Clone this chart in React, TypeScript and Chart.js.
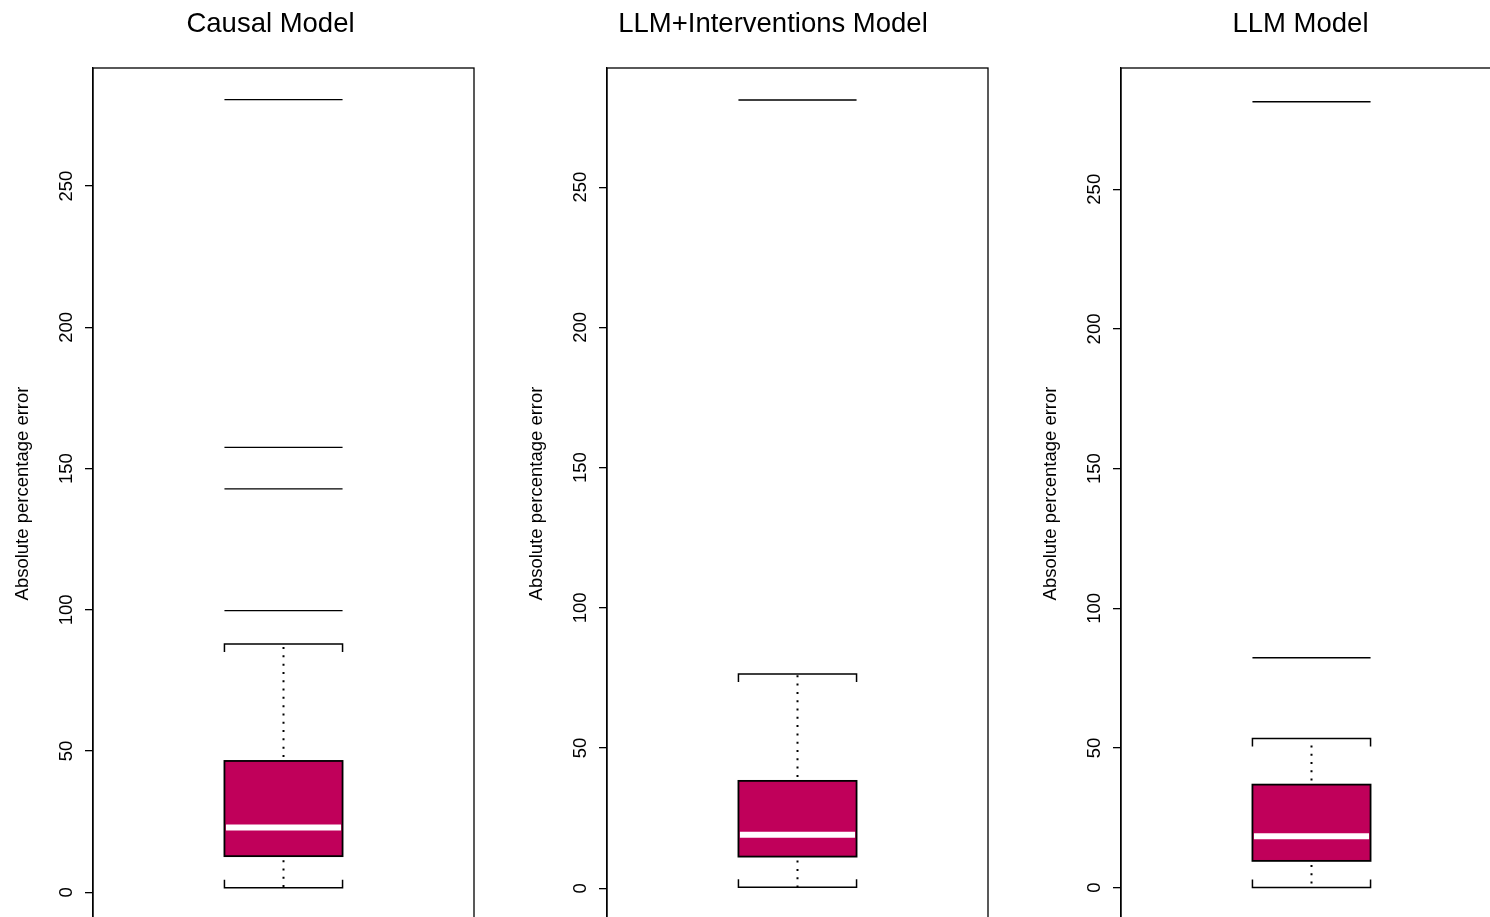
import React, { useEffect, useRef } from 'react';
import { Chart, registerables } from 'chart.js';

Chart.register(...registerables);

// ---------- data ----------
const panelTitles = ['Causal Model', 'LLM+Interventions Model', 'LLM Model'];
const yAxisTitle = 'Absolute percentage error';
const yTickValues = [0, 50, 100, 150, 200, 250];

const lowerWhisker = [1.6, 0.4, 0.1];
const q1Values = [12.8, 11.3, 9.6];
const medianValues = [22.9, 19.1, 18.4];
const q3Values = [46.5, 38.3, 36.9];
const upperWhisker = [87.9, 76.4, 53.4];

const outliersCausal = [99.7, 142.8, 157.5, 280.6];
const outliersLLMInterventions = [281.1];
const outliersLLM = [82.3, 281.3];
const outlierSets = [outliersCausal, outliersLLMInterventions, outliersLLM];

const yMin = [-9.45, -10.95, -11.2];
const yMax = [291.8, 292.5, 293.4];

// ---------- layout / style ----------
const PANEL_W = 514;
const CANVAS_H = 950;
const AREA_BOTTOM = 919;
const FONT = '"Liberation Sans", Arial, Helvetica, sans-serif';
const BOX_COLOR = '#C0005A';
const titleCenters = [270.5, 259, 272.5];

function makeBoxPlugin(i: number) {
  return {
    id: 'boxExtras' + i,
    afterDatasetsDraw(chart: any) {
      const ctx = chart.ctx;
      const y = chart.scales.y;
      const meta = chart.getDatasetMeta(0);
      const bar = meta.data[0];
      if (!bar) return;
      const cx = bar.x;
      const half = bar.width / 2;
      const xl = cx - half;
      const xr = cx + half;
      ctx.save();
      ctx.strokeStyle = '#000';
      // dotted whiskers
      ctx.lineWidth = 2;
      ctx.setLineDash([2, 6.3]);
      ctx.beginPath();
      ctx.moveTo(cx, y.getPixelForValue(q3Values[i]) - 4);
      ctx.lineTo(cx, y.getPixelForValue(upperWhisker[i]));
      ctx.moveTo(cx, y.getPixelForValue(q1Values[i]) + 4);
      ctx.lineTo(cx, y.getPixelForValue(lowerWhisker[i]));
      ctx.stroke();
      ctx.setLineDash([]);
      // caps
      const yu = y.getPixelForValue(upperWhisker[i]);
      const yl = y.getPixelForValue(lowerWhisker[i]);
      ctx.lineWidth = 1.5;
      ctx.beginPath();
      ctx.moveTo(xl, yu + 8);
      ctx.lineTo(xl, yu);
      ctx.lineTo(xr, yu);
      ctx.lineTo(xr, yu + 8);
      ctx.moveTo(xl, yl - 8);
      ctx.lineTo(xl, yl);
      ctx.lineTo(xr, yl);
      ctx.lineTo(xr, yl - 8);
      ctx.stroke();
      // outliers
      ctx.lineWidth = 1.4;
      ctx.beginPath();
      outlierSets[i].forEach((v) => {
        const py = y.getPixelForValue(v);
        ctx.moveTo(xl, py);
        ctx.lineTo(xr, py);
      });
      ctx.stroke();
      // box outline
      const yq1 = y.getPixelForValue(q1Values[i]);
      const yq3 = y.getPixelForValue(q3Values[i]);
      ctx.lineWidth = 1.8;
      ctx.strokeRect(xl, yq3, xr - xl, yq1 - yq3);
      // median
      ctx.strokeStyle = '#fff';
      ctx.lineWidth = 6;
      const ym = y.getPixelForValue(medianValues[i]);
      ctx.beginPath();
      ctx.moveTo(xl + 1.5, ym);
      ctx.lineTo(xr - 1.5, ym);
      ctx.stroke();
      // frame
      const a = chart.chartArea;
      ctx.strokeStyle = '#000';
      ctx.lineWidth = 1.3;
      ctx.strokeRect(a.left, a.top, a.right - a.left, a.bottom - a.top);
      // title
      ctx.fillStyle = '#000';
      ctx.font = '27.5px ' + FONT;
      ctx.textAlign = 'center';
      ctx.textBaseline = 'alphabetic';
      ctx.fillText(panelTitles[i], titleCenters[i], 32);
      ctx.restore();
    },
  };
}

function Panel({ index }: { index: number }) {
  const ref = useRef<HTMLCanvasElement | null>(null);
  useEffect(() => {
    if (!ref.current) return;
    const chart = new Chart(ref.current, {
      type: 'bar',
      data: {
        labels: [panelTitles[index]],
        datasets: [
          {
            data: [[q1Values[index], q3Values[index]]] as any,
            backgroundColor: BOX_COLOR,
            borderWidth: 0,
            categoryPercentage: 1,
            barPercentage: 0.31,
          },
        ],
      },
      options: {
        animation: false,
        responsive: false,
        devicePixelRatio: 1,
        layout: { padding: { top: 68, right: 40, bottom: CANVAS_H - AREA_BOTTOM, left: 0 } },
        plugins: { legend: { display: false }, tooltip: { enabled: false }, title: { display: false } },
        scales: {
          x: { display: false, offset: true },
          y: {
            min: yMin[index],
            max: yMax[index],
            afterBuildTicks: (s: any) => {
              s.ticks = yTickValues.map((v) => ({ value: v }));
            },
            afterFit: (s: any) => {
              s.width = 93;
            },
            grid: {
              drawOnChartArea: false,
              drawTicks: true,
              tickLength: 8,
              color: '#000',
              lineWidth: 1.3,
            },
            border: { display: true, color: '#000', width: 1.3 },
            ticks: {
              color: '#000',
              font: { family: FONT, size: 18.5 },
              minRotation: 90,
              maxRotation: 90,
              crossAlign: 'center',
              padding: 3,
              callback: (v: any) => String(v),
            },
            title: {
              display: true,
              text: yAxisTitle,
              color: '#000',
              font: { family: FONT, size: 18.5 },
              padding: { top: 11.4, bottom: 0 },
            },
          },
        },
      } as any,
      plugins: [makeBoxPlugin(index)],
    });
    return () => chart.destroy();
  }, [index]);
  return (
    <div style={{ position: 'absolute', left: index * PANEL_W, top: 0, width: PANEL_W, height: CANVAS_H }}>
      <canvas ref={ref} width={PANEL_W} height={CANVAS_H} style={{ width: PANEL_W, height: CANVAS_H, display: 'block' }} />
    </div>
  );
}

export default function App() {
  return (
    <div
      style={{
        position: 'absolute',
        left: 0,
        top: 0,
        width: 1490,
        height: 917,
        overflow: 'hidden',
        background: '#fff',
      }}
    >
      {[0, 1, 2].map((i) => (
        <Panel key={i} index={i} />
      ))}
    </div>
  );
}
